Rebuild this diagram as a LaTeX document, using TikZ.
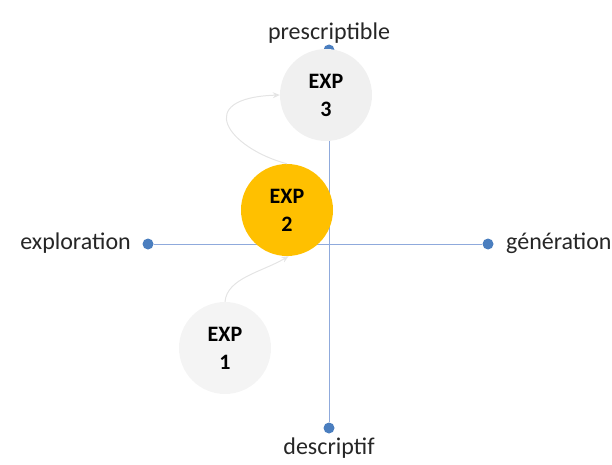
\documentclass[tikz,border=0pt]{standalone}
\usepackage{fontspec}
\setmainfont{Carlito}
\usetikzlibrary{arrows.meta, positioning}
\definecolor{axisblue}{RGB}{143, 170, 220}
\definecolor{dotblue}{RGB}{74, 126, 191}
\definecolor{expgold}{RGB}{255, 192, 0}
\definecolor{expgray}{RGB}{240, 240, 240}
\definecolor{explight}{RGB}{244, 244, 244}
\definecolor{flowgray}{RGB}{228, 228, 228}

\begin{document}
\begin{tikzpicture}[
        x=1pt, y=-1pt,
        axis/.style={draw=axisblue, line width=1pt},
        enddot/.style={circle, fill=dotblue, inner sep=0pt, minimum size=11pt},
        pole/.style={font=\fontsize{24}{28}\selectfont, text=black!85, inner sep=0pt},
        expnode/.style={circle, minimum size=92pt, inner sep=0pt, align=center, font=\fontsize{22}{28}\selectfont\bfseries},
        flow/.style={draw=flowgray, line width=1pt, -{Stealth[length=7pt, width=6pt, open]}}
    ]
        \useasboundingbox (0,0) rectangle (612,465);

        % axes
        \node[enddot] (presc) at (329,50) {};
        \node[enddot] (descr) at (329,428) {};
        \node[enddot] (explo) at (148,244) {};
        \node[enddot] (gener) at (488,244) {};
        \draw[axis] (presc) -- (descr);
        \draw[axis] (explo) -- (gener);

        \node[pole] (prescl) at (329,33) {prescriptible};
        \node[pole] (descrl) at (329,448) {descriptif};
        \node[pole, anchor=east] (explol) at (131,243) {exploration};
        \node[pole, anchor=west] (generl) at (506,243) {génération};

        % experiences
        \node[expnode, fill=explight] (exp1) at (225,348) {EXP\\1};
        \node[expnode, fill=expgold] (exp2) at (287,210) {EXP\\2};
        \node[expnode, fill=expgray] (exp3) at (326,95) {EXP\\3};

        \draw[flow] (exp1.north) .. controls (227,278) and (262,272) .. (exp2.-88);
        \draw[flow] (exp2.north) .. controls (228,148) and (192,98) .. (exp3.west);
    \end{tikzpicture}
\end{document}
